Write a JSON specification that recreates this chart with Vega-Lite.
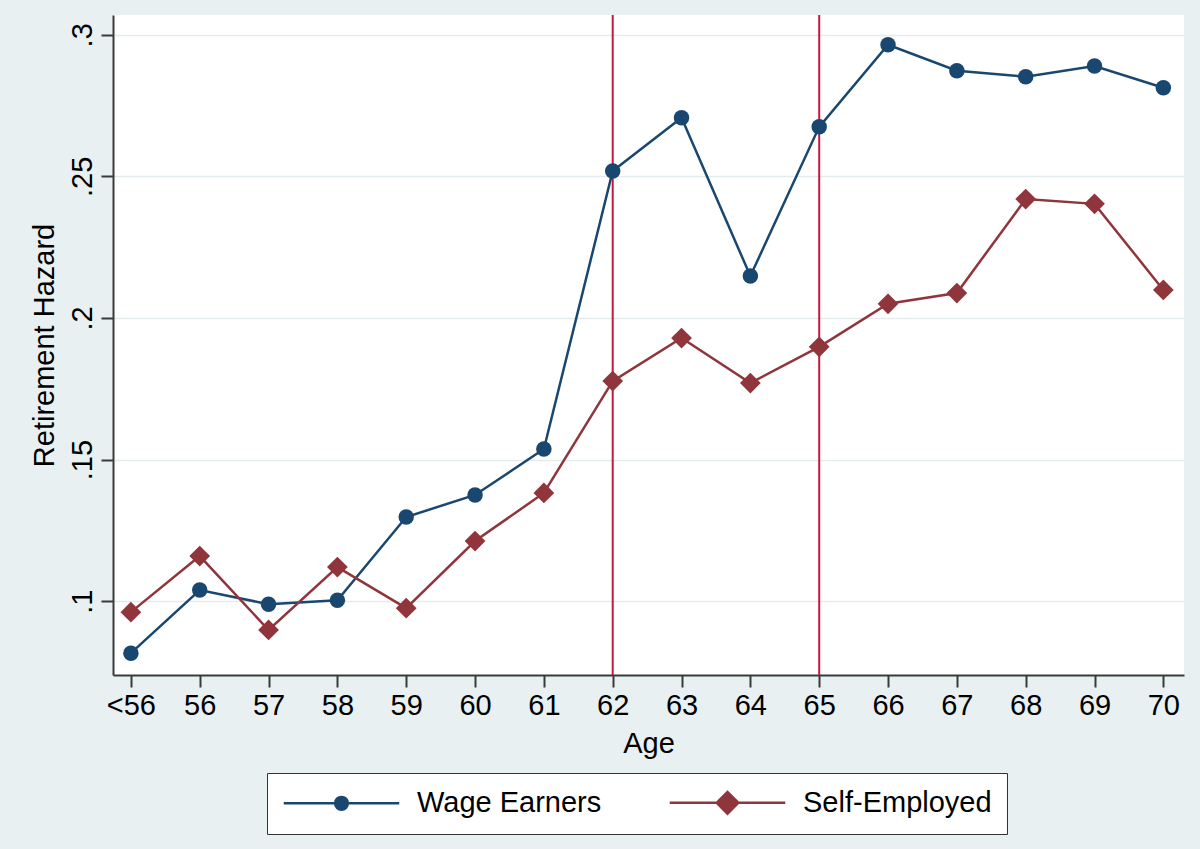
{
  "$schema": "https://vega.github.io/schema/vega-lite/v6.json",
  "autosize": {"type": "none"},
  "width": 1071,
  "height": 660,
  "padding": {"left": 113, "top": 15, "right": 16, "bottom": 174},
  "background": "#e8f0f2",
  "config": {
    "view": {"fill": "white", "stroke": null},
    "font": "Liberation Sans",
    "axis": {
      "domainColor": "#3a3a3a", "domainWidth": 2,
      "tickColor": "#3a3a3a", "tickWidth": 2, "tickSize": 12,
      "labelColor": "black", "labelFontSize": 29, "labelFont": "Liberation Sans",
      "titleColor": "black", "titleFontSize": 29, "titleFont": "Liberation Sans", "titleFontWeight": "normal"
    },
    "legend": {
      "title": null, "orient": "none", "legendX": 154, "legendY": 758, "direction": "horizontal",
      "fillColor": "white", "strokeColor": "#333333", "padding": 15, "columnPadding": 62,
      "labelFontSize": 29, "labelFont": "Liberation Sans", "labelColor": "black", "labelLimit": 0,
      "symbolSize": 225, "symbolOffset": 45, "labelOffset": 61, "symbolStrokeWidth": 2.5
    }
  },
  "data": {"values": [
    {"age": 55, "series": "Wage Earners", "hazard": 0.0816},
    {"age": 56, "series": "Wage Earners", "hazard": 0.1039},
    {"age": 57, "series": "Wage Earners", "hazard": 0.0989},
    {"age": 58, "series": "Wage Earners", "hazard": 0.1003},
    {"age": 59, "series": "Wage Earners", "hazard": 0.1297},
    {"age": 60, "series": "Wage Earners", "hazard": 0.1375},
    {"age": 61, "series": "Wage Earners", "hazard": 0.1537},
    {"age": 62, "series": "Wage Earners", "hazard": 0.2519},
    {"age": 63, "series": "Wage Earners", "hazard": 0.2707},
    {"age": 64, "series": "Wage Earners", "hazard": 0.2148},
    {"age": 65, "series": "Wage Earners", "hazard": 0.2675},
    {"age": 66, "series": "Wage Earners", "hazard": 0.2965},
    {"age": 67, "series": "Wage Earners", "hazard": 0.2873},
    {"age": 68, "series": "Wage Earners", "hazard": 0.2852},
    {"age": 69, "series": "Wage Earners", "hazard": 0.289},
    {"age": 70, "series": "Wage Earners", "hazard": 0.2813},
    {"age": 55, "series": "Self-Employed", "hazard": 0.0961},
    {"age": 56, "series": "Self-Employed", "hazard": 0.1159},
    {"age": 57, "series": "Self-Employed", "hazard": 0.0898},
    {"age": 58, "series": "Self-Employed", "hazard": 0.112},
    {"age": 59, "series": "Self-Employed", "hazard": 0.0975},
    {"age": 60, "series": "Self-Employed", "hazard": 0.1212},
    {"age": 61, "series": "Self-Employed", "hazard": 0.1382},
    {"age": 62, "series": "Self-Employed", "hazard": 0.1777},
    {"age": 63, "series": "Self-Employed", "hazard": 0.1929},
    {"age": 64, "series": "Self-Employed", "hazard": 0.177},
    {"age": 65, "series": "Self-Employed", "hazard": 0.1898},
    {"age": 66, "series": "Self-Employed", "hazard": 0.205},
    {"age": 67, "series": "Self-Employed", "hazard": 0.2088},
    {"age": 68, "series": "Self-Employed", "hazard": 0.242},
    {"age": 69, "series": "Self-Employed", "hazard": 0.2403},
    {"age": 70, "series": "Self-Employed", "hazard": 0.2099}
  ]},
  "layer": [
    {
      "data": {"values": [{"age": 62}, {"age": 65}]},
      "mark": {"type": "rule", "color": "#c8163f", "strokeWidth": 2},
      "encoding": {
        "x": {"field": "age", "type": "quantitative", "scale": {"domain": [54.74, 70.3], "nice": false, "zero": false}}
      }
    },
    {
      "mark": {"type": "line", "strokeWidth": 2.5},
      "encoding": {
        "x": {"field": "age", "type": "quantitative",
              "scale": {"domain": [54.74, 70.3], "nice": false, "zero": false},
              "axis": {"title": "Age", "values": [55,56,57,58,59,60,61,62,63,64,65,66,67,68,69,70], "format": "d",
                       "labelExpr": "datum.value == 55 ? '<56' : datum.label", "grid": false,
                       "labelPadding": 4, "titleY": 77, "titleBaseline": "alphabetic"}},
        "y": {"field": "hazard", "type": "quantitative",
              "scale": {"domain": [0.0739, 0.307], "nice": false, "zero": false},
              "axis": {"title": "Retirement Hazard", "values": [0.1, 0.15, 0.2, 0.25, 0.3],
                       "labelExpr": "substring(format(datum.value, '.2~f'), 1)",
                       "labelAngle": 270, "labelAlign": "center", "labelBaseline": "alphabetic", "labelPadding": 10,
                       "grid": true, "gridColor": "#e3ebee", "gridWidth": 1.5,
                       "titleX": -60, "titleY": 330, "titleAngle": 270, "titleAlign": "center", "titleBaseline": "alphabetic"}},
        "color": {"field": "series", "type": "nominal",
                  "scale": {"domain": ["Wage Earners", "Self-Employed"], "range": ["#1a476f", "#90353b"]},
                  "legend": {
                    "encode": {
                      "symbols": {"update": {
                        "shape": {"signal": "datum.value === 'Wage Earners' ? 'M-7.7,0H7.7M-0.85,0A0.85,0.85 0 1,0 0.85,0A0.85,0.85 0 1,0 -0.85,0Z' : 'M-7.7,0H7.7M-1.45,0L0,-1.45L1.45,0L0,1.45Z'"},
                        "fill": {"signal": "datum.value === 'Wage Earners' ? '#1a476f' : '#90353b'"},
                        "stroke": {"signal": "datum.value === 'Wage Earners' ? '#1a476f' : '#90353b'"},
                        "strokeWidth": {"value": 2.5},
                        "opacity": {"value": 1},
                        "size": {"value": 225}
                      }}
                    }
                  }}
      }
    },
    {
      "mark": {"type": "point", "filled": true, "opacity": 1},
      "encoding": {
        "x": {"field": "age", "type": "quantitative"},
        "y": {"field": "hazard", "type": "quantitative"},
        "color": {"field": "series", "type": "nominal", "legend": null},
        "shape": {"condition": {"test": "datum.series === 'Self-Employed'", "value": "diamond"}, "value": "circle"},
        "size": {"condition": {"test": "datum.series === 'Self-Employed'", "value": 430}, "value": 240}
      }
    }
  ]
}
